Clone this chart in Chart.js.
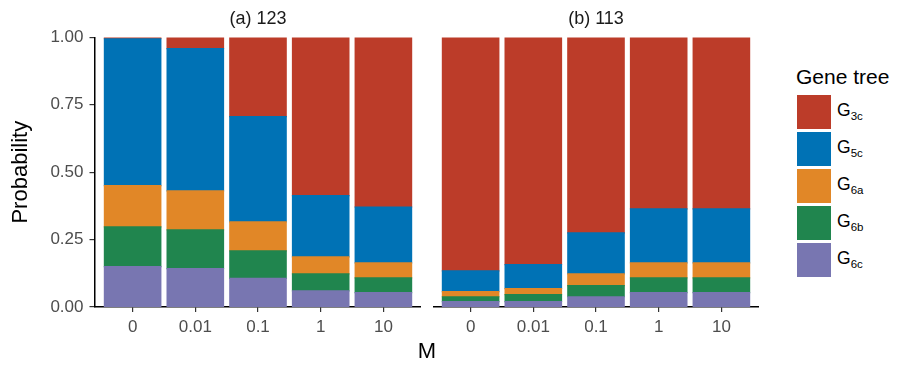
<!DOCTYPE html>
<html>
<head>
<meta charset="utf-8">
<script src="https://cdn.jsdelivr.net/npm/chart.js@4/dist/chart.umd.min.js"></script>
<style>
  html, body { margin: 0; padding: 0; background: #ffffff; }
  body { width: 903px; height: 365px; position: relative; overflow: hidden;
         font-family: "Liberation Sans", Arial, sans-serif; }
  canvas { position: absolute; top: 0; }
  #panelA { left: 0; }
  #panelB { left: 433px; }
  #xTitle { position: absolute; left: 377px; width: 100px; top: 340.4px; text-align: center;
            font-size: 22px; line-height: 22px; color: #000; }
  #legendTitle { position: absolute; left: 796px; top: 65.5px; font-size: 21px; line-height: 21px; color: #000; white-space: nowrap; }
  .key { position: absolute; left: 797px; width: 34px; height: 34px; }
  .keyLabel { position: absolute; left: 837px; font-size: 17.5px; line-height: 17px; color: #000; white-space: nowrap; }
  .keyLabel span { font-size: 11.5px; position: relative; top: 3.5px; }
</style>
</head>
<body>
<canvas id="panelA" width="421" height="365"></canvas>
<canvas id="panelB" width="326" height="365"></canvas>
<div id="xTitle">M</div>
<div id="legendTitle">Gene tree</div>
<div id="legend"></div>
<script>
// Migration rate categories on the x axis
const mLabels = ['0', '0.01', '0.1', '1', '10'];
const panelTitles = ['(a) 123', '(b) 113'];
const yTickValues = [0, 0.25, 0.5, 0.75, 1];
const yTickLabels = ['0.00', '0.25', '0.50', '0.75', '1.00'];
const yTitle = 'Probability';
const legendTitle = 'Gene tree';

// Gene tree classes, listed top of legend first
const seriesNames = ['G3c', 'G5c', 'G6a', 'G6b', 'G6c'];
const seriesColors = ['#BC3C29', '#0072B5', '#E18727', '#20854E', '#7876B1'];

// Panel (a) 123: probability of each gene tree per M
const g3cA = [0.005, 0.042, 0.294, 0.587, 0.629];
const g5cA = [0.545, 0.527, 0.390, 0.227, 0.207];
const g6aA = [0.153, 0.145, 0.108, 0.063, 0.056];
const g6bA = [0.147, 0.144, 0.102, 0.063, 0.055];
const g6cA = [0.150, 0.142, 0.106, 0.060, 0.053];

// Panel (b) 113
const g3cB = [0.866, 0.843, 0.725, 0.636, 0.636];
const g5cB = [0.077, 0.089, 0.152, 0.200, 0.200];
const g6aB = [0.019, 0.022, 0.044, 0.056, 0.056];
const g6bB = [0.018, 0.026, 0.041, 0.055, 0.055];
const g6cB = [0.020, 0.020, 0.038, 0.053, 0.053];

const FONT = '"Liberation Sans", Arial, sans-serif';

// Stack order bottom-up is the reverse of the legend order
function buildDatasets(cols) {
  return seriesNames.map((name, k) => ({
    label: name,
    data: cols[k].map((v, i) => ({ x: i, y: v })),
    backgroundColor: seriesColors[k],
    borderWidth: 0,
    inflateAmount: 0.6,
    barPercentage: 0.9,
    categoryPercentage: 1
  })).reverse();
}

function buildOptions(title, showY) {
  return {
    responsive: false,
    animation: false,
    events: [],
    layout: { padding: 0 },
    plugins: {
      legend: { display: false },
      tooltip: { enabled: false },
      title: {
        display: true, text: title, fullSize: false, color: '#1a1a1a',
        font: { family: FONT, size: 18, weight: 'normal' },
        padding: { top: 8.5, bottom: 7.3 }
      }
    },
    scales: {
      x: {
        type: 'linear', stacked: true, min: -0.6, max: 4.6, offset: false,
        afterBuildTicks: s => { s.ticks = mLabels.map((_, i) => ({ value: i })); },
        afterFit: s => { s.height = 58; },
        ticks: {
          callback: v => mLabels[v], color: '#4d4d4d', autoSkip: false, maxRotation: 0,
          font: { family: FONT, size: 17 }, padding: 5
        },
        grid: { display: true, offset: false, drawOnChartArea: false, drawTicks: true, tickLength: 5, color: '#333333', lineWidth: 1.2 },
        border: { display: true, color: '#000000', width: 1.5 }
      },
      y: {
        display: showY, stacked: true, min: 0, max: 1,
        afterBuildTicks: s => { s.ticks = yTickValues.map(v => ({ value: v })); },
        afterFit: s => { if (showY) s.width = 95; },
        ticks: {
          callback: (v, i) => yTickLabels[i], color: '#4d4d4d',
          font: { family: FONT, size: 17 }, padding: 6
        },
        grid: { display: true, drawOnChartArea: false, drawTicks: true, tickLength: 5.5, color: '#333333', lineWidth: 1.2 },
        border: { display: true, color: '#000000', width: 1.5 },
        title: {
          display: true, text: yTitle, color: '#000000',
          font: { family: FONT, size: 22 }, padding: { top: 8, bottom: 0 }
        }
      }
    }
  };
}

new Chart(document.getElementById('panelA'), {
  type: 'bar',
  data: { datasets: buildDatasets([g3cA, g5cA, g6aA, g6bA, g6cA]) },
  options: buildOptions(panelTitles[0], true)
});

new Chart(document.getElementById('panelB'), {
  type: 'bar',
  data: { datasets: buildDatasets([g3cB, g5cB, g6aB, g6bB, g6cB]) },
  options: buildOptions(panelTitles[1], false)
});

// Legend: colour keys with subscripted gene tree names
document.getElementById('legendTitle').textContent = legendTitle;
const legend = document.getElementById('legend');
seriesNames.forEach((name, k) => {
  const top = 95 + k * 37;
  const key = document.createElement('div');
  key.className = 'key';
  key.style.top = top + 'px';
  key.style.background = seriesColors[k];
  legend.appendChild(key);
  const lab = document.createElement('div');
  lab.className = 'keyLabel';
  lab.style.top = (top + 7.3) + 'px';
  lab.textContent = name.charAt(0);
  const sub = document.createElement('span');
  sub.textContent = name.slice(1);
  lab.appendChild(sub);
  legend.appendChild(lab);
});
</script>
</body>
</html>
